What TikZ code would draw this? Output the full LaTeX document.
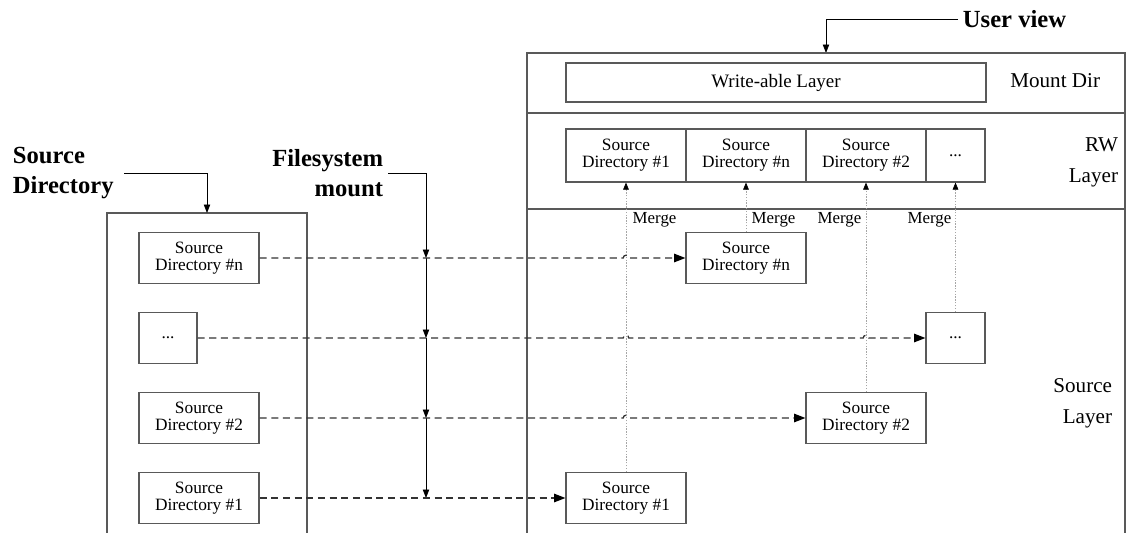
\documentclass[tikz,border=0pt]{standalone}
\usepackage{fontspec}
\setmainfont{Liberation Serif}
\usetikzlibrary{arrows.meta}

\begin{document}
\begin{tikzpicture}[x=0.025cm, y=-0.025cm,
	frame/.style={black!65, line width=0.8pt},
	dirbox/.style={draw=black!65, line width=0.8pt, minimum width=3cm, minimum height=1.275cm, inner sep=0pt, align=center, font=\fontsize{12.3}{12}\selectfont},
	mountline/.style={black!80, line width=0.9pt, dash pattern=on 5pt off 3.3pt, -{Triangle[length=8pt,width=6pt,black]}},
	mergeline/.style={black!35, line width=0.5pt, dash pattern=on 1pt off 1pt, -{Triangle[length=5pt,width=4pt,black]}},
	callout/.style={black, line width=0.6pt},
	calloutarrow/.style={callout, -{Triangle[length=6pt,width=4.5pt]}},
	bigtitle/.style={font=\fontsize{17.5}{21}\selectfont\bfseries},
	layername/.style={font=\fontsize{15}{22}\selectfont, align=right},
	mergetext/.style={font=\fontsize{12}{12}\selectfont, inner sep=1pt}]
	\useasboundingbox (0,0) rectangle (1127,533);

	% Source directory (left)
	\node[bigtitle, align=left, anchor=west] (srclabel) at (8,173) {Source\\Directory};
	\draw[frame] (107,533) |- (307,213) -- (307,533);
	\coordinate (srctop) at (207,213);
	\draw[calloutarrow] ([xshift=4pt]srclabel.east) -| (srctop);

	\node[dirbox] (srcn) at (199,258) {Source\\Directory \#n};
	\node[dirbox, minimum width=1.45cm] (srcd) at (168,338) {...};
	\node[dirbox] (src2) at (199,418) {Source\\Directory \#2};
	\node[dirbox] (src1) at (199,498) {Source\\Directory \#1};

	% Filesystem mount
	\node[bigtitle, align=right, anchor=east] (fslabel) at (388,173) {Filesystem\\mount};
	\coordinate (fscorner) at (426,173);
	\draw[callout] (fslabel.east) -- (fscorner);
	\draw[calloutarrow] (fscorner) -- (fscorner |- srcn.east);
	\draw[calloutarrow] (fscorner |- srcn.east) -- (fscorner |- srcd.east);
	\draw[calloutarrow] (fscorner |- srcd.east) -- (fscorner |- src2.east);
	\draw[calloutarrow] (fscorner |- src2.east) -- (fscorner |- src1.east);

	% Mount dir (right)
	\node[bigtitle, anchor=west] (userlabel) at (958,19) {User view};
	\coordinate (usertop) at (826,53);
	\draw[calloutarrow] (userlabel.west) -| (usertop);
	\draw[frame] (527,533) |- (1125,53) -- (1125,533);
	\draw[frame] (527,113) -- (1125,113);
	\draw[frame] (527,209) -- (1125,209);

	\node[dirbox, minimum width=10.5cm, minimum height=0.975cm, font=\fontsize{13.5}{13.5}\selectfont] (wlayer) at (776,82.5) {Write-able Layer};
	\node[layername, anchor=east] (mountname) at (1105,81) {Mount Dir};
	\node[layername, anchor=east] (rwname) at (1123,162) {RW\\Layer};
	\node[layername, anchor=east] (srcname) at (1117,403) {Source\\Layer};

	% RW layer
	\node[dirbox, minimum height=1.325cm] (rw1) at (626,155.5) {Source\\Directory \#1};
	\node[dirbox, minimum height=1.325cm] (rwn) at (746,155.5) {Source\\Directory \#n};
	\node[dirbox, minimum height=1.325cm] (rw2) at (866,155.5) {Source\\Directory \#2};
	\node[dirbox, minimum height=1.325cm, minimum width=1.475cm] (rwd) at (955.5,155.5) {...};

	% Source layer
	\node[dirbox] (dstn) at (746,258) {Source\\Directory \#n};
	\node[dirbox, minimum width=1.475cm] (dstd) at (955.5,338) {...};
	\node[dirbox] (dst2) at (866,418) {Source\\Directory \#2};
	\node[dirbox] (dst1) at (626,498) {Source\\Directory \#1};

	% Mount
	\draw[mountline] (srcn.east) -- ([xshift=-2pt]srcn.east -| rw1) arc[start angle=180, end angle=0, radius=2pt] -- (dstn.west);
	\draw[mountline] (srcd.east) -- ([xshift=-2pt]srcd.east -| rw1) arc[start angle=180, end angle=0, radius=2pt]
		-- ([xshift=-2pt]srcd.east -| rw2) arc[start angle=180, end angle=0, radius=2pt] -- (dstd.west);
	\draw[mountline] (src2.east) -- ([xshift=-2pt]src2.east -| rw1) arc[start angle=180, end angle=0, radius=2pt] -- (dst2.west);
	\draw[mountline] (src1.east) -- (dst1.west);

	% Merge
	\draw[mergeline] (dst1.north) -- (rw1.south);
	\draw[mergeline] (dstn.north) -- (rwn.south);
	\draw[mergeline] (dst2.north) -- (rw2.south);
	\draw[mergeline] (dstd.north) -- (rwd.south);
	\node[mergetext, anchor=west] (merge1) at (631,220) {Merge};
	\node[mergetext, anchor=west] (mergen) at (750,220) {Merge};
	\node[mergetext, anchor=east] (merge2) at (863,220) {Merge};
	\node[mergetext, anchor=east] (merged) at (953,220) {Merge};
\end{tikzpicture}
\end{document}
